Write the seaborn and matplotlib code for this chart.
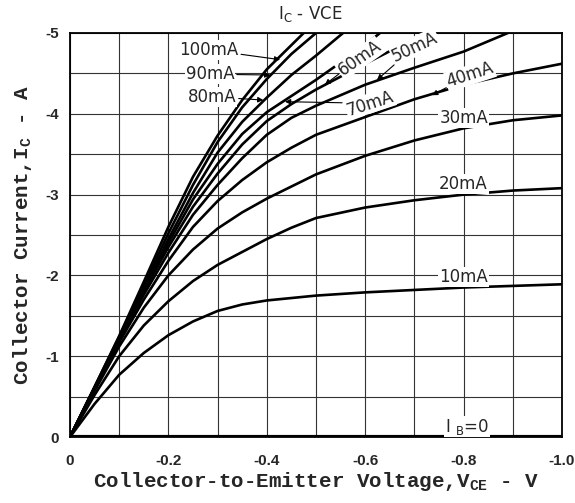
import numpy as np
import pandas as pd
import matplotlib
matplotlib.use("Agg")
import matplotlib.pyplot as plt
import seaborn as sns

# collector-emitter voltage (magnitude, V)
vce = [0, 0.05, 0.1, 0.15, 0.2, 0.25, 0.3, 0.35, 0.4, 0.45, 0.5, 0.6, 0.7, 0.8, 0.9, 1.0]

# collector current (magnitude, A) per base current
ic_10 = [0, 0.41, 0.77, 1.04, 1.26, 1.43, 1.56, 1.64, 1.69, 1.72, 1.75, 1.79, 1.82, 1.85, 1.87, 1.89]
ic_20 = [0, 0.52, 1.00, 1.38, 1.68, 1.93, 2.13, 2.29, 2.45, 2.59, 2.71, 2.84, 2.93, 3.00, 3.05, 3.08]
ic_30 = [0, 0.57, 1.12, 1.60, 2.00, 2.32, 2.58, 2.78, 2.95, 3.10, 3.25, 3.48, 3.67, 3.82, 3.92, 3.98]
ic_40 = [0, 0.59, 1.17, 1.70, 2.18, 2.60, 2.92, 3.18, 3.40, 3.58, 3.74, 3.96, 4.18, 4.36, 4.50, 4.62]
ic_50 = [0, 0.60, 1.19, 1.76, 2.28, 2.75, 3.12, 3.45, 3.74, 3.95, 4.10, 4.36, 4.57, 4.77]
ic_60 = [0, 0.60, 1.20, 1.80, 2.35, 2.85, 3.26, 3.62, 3.91, 4.12, 4.30, 4.62, 4.93]
ic_70 = [0, 0.61, 1.21, 1.82, 2.40, 2.94, 3.38, 3.75, 4.02, 4.22, 4.42, 4.85]
ic_80 = [0, 0.61, 1.22, 1.85, 2.45, 3.02, 3.52, 3.90, 4.20, 4.48, 4.72]
ic_90 = [0, 0.62, 1.24, 1.88, 2.52, 3.12, 3.65, 4.08, 4.43, 4.74]
ic_100 = [0, 0.62, 1.25, 1.92, 2.60, 3.22, 3.73, 4.17, 4.55, 4.85]

# voltage where a curve leaves the top of the chart (Ic = 5 A)
top_vce = {"50mA": 0.89, "60mA": 0.72, "70mA": 0.63, "80mA": 0.555, "90mA": 0.50, "100mA": 0.475}
ic_max = 5.0

curves = {"10mA": ic_10, "20mA": ic_20, "30mA": ic_30, "40mA": ic_40, "50mA": ic_50,
          "60mA": ic_60, "70mA": ic_70, "80mA": ic_80, "90mA": ic_90, "100mA": ic_100}

rows = []
for name, ic in curves.items():
    for v, i in zip(vce, ic):
        rows.append((name, -v, -i))
    if name in top_vce:
        rows.append((name, -top_vce[name], -ic_max))
df = pd.DataFrame(rows, columns=["ib", "vce", "ic"])

sns.set_style("white")
plt.rcParams["font.family"] = ["DejaVu Sans"]
plt.rcParams["mathtext.fontset"] = "custom"
plt.rcParams["mathtext.rm"] = "Liberation Mono:bold"
plt.rcParams["mathtext.sf"] = "DejaVu Sans"

fig = plt.figure(figsize=(5.75, 5.03), dpi=100)
ax = fig.add_axes([0.1217, 0.1312, 0.8557, 0.8032])

sns.lineplot(data=df, x="vce", y="ic", units="ib", estimator=None, color="black",
             lw=1.9, ax=ax, legend=False, sort=True, solid_joinstyle="round")
# IB = 0 line along the bottom
ax.plot([0, -1.0], [0, 0], color="black", lw=3, solid_capstyle="butt", zorder=5)

ax.set_xlim(0, -1.0)
ax.set_ylim(0, -5)
ax.set_xticks([0, -0.2, -0.4, -0.6, -0.8, -1.0])
ax.set_xticklabels(["0", "-0.2", "-0.4", "-0.6", "-0.8", "-1.0"])
ax.set_xticks(np.arange(-0.1, -1.0, -0.2), minor=True)
ax.set_yticks([0, -1, -2, -3, -4, -5])
ax.set_yticklabels(["0", "-1", "-2", "-3", "-4", "-5"])
ax.set_yticks(np.arange(-0.5, -5.0, -1.0), minor=True)
ax.grid(which="both", color="0.2", lw=0.8)
ax.tick_params(which="both", length=0)
ax.tick_params(axis="x", pad=12)
ax.tick_params(axis="y", pad=8)
for lab in ax.get_xticklabels() + ax.get_yticklabels():
    lab.set_fontfamily("Liberation Sans")
    lab.set_fontweight("bold")
    lab.set_fontsize(11)
for s in ax.spines.values():
    s.set_color("black")
    s.set_linewidth(1.3)

ax.set_xlabel("Collector-to-Emitter Voltage,V$_{\\mathrm{CE}}$ - V", fontfamily="Liberation Mono",
              fontweight="bold", fontsize=15, labelpad=2)
ax.set_ylabel("Collector Current,I$_{\\mathrm{C}}$ - A", fontfamily="Liberation Mono",
              fontweight="bold", fontsize=15, labelpad=8)

fig.text(0.54, 1 - 14 / 503, "I$_{\\mathsf{C}}$ - VCE", ha="center", va="center", fontsize=12)

white = dict(boxstyle="square,pad=0.05", fc="white", ec="none")
arrow = dict(arrowstyle="-|>", color="black", lw=0.8, mutation_scale=8, shrinkA=1, shrinkB=0)
fs = 12

labels_arrow = [
    ("100mA", (-0.427, -4.67), (-0.283, -4.79), 0),
    ("90mA", (-0.407, -4.48), (-0.285, -4.49), 0),
    ("80mA", (-0.393, -4.17), (-0.289, -4.21), 0),
    ("70mA", (-0.437, -4.15), (-0.61, -4.13), 18),
    ("60mA", (-0.518, -4.36), (-0.589, -4.69), 35),
    ("50mA", (-0.624, -4.42), (-0.701, -4.83), 25),
    ("40mA", (-0.736, -4.23), (-0.813, -4.48), 18),
]
for txt, tip, pos, rot in labels_arrow:
    ax.annotate(txt, xy=tip, xytext=pos, ha="center", va="center", rotation=rot,
                fontsize=fs, bbox=white, arrowprops=arrow, zorder=6)

for txt, pos in [("30mA", (-0.80, -3.95)), ("20mA", (-0.80, -3.13)), ("10mA", (-0.80, -1.98))]:
    ax.text(pos[0], pos[1], txt, ha="center", va="center", fontsize=fs, bbox=white, zorder=6)
ax.text(-0.807, -0.13, "I $_{\\mathsf{B}}$=0", ha="center", va="center", fontsize=fs,
        bbox=white, zorder=6)

fig.savefig("out.png", dpi=100)
